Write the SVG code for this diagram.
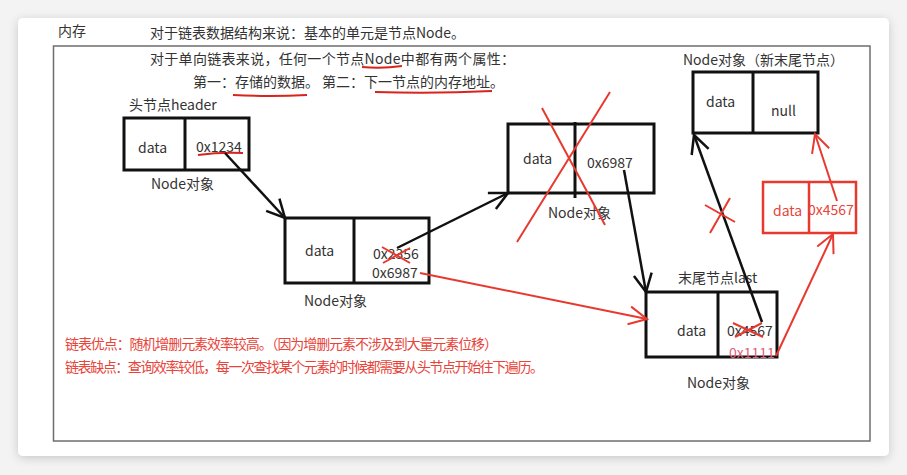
<svg xmlns="http://www.w3.org/2000/svg" width="907" height="475" viewBox="0 0 907 475">
<defs>
<filter id="sh" x="-10%" y="-10%" width="120%" height="120%">
<feDropShadow dx="0" dy="2" stdDeviation="5" flood-color="#000" flood-opacity="0.18"/>
</filter>
<marker id="ab" markerUnits="userSpaceOnUse" viewBox="-20 -12 22 24" refX="0" refY="0" markerWidth="22" markerHeight="24" orient="auto">
<path d="M-18,-9 L0,0 L-18,9" fill="none" stroke="#111" stroke-width="2.5"/>
</marker>
<marker id="ar" markerUnits="userSpaceOnUse" viewBox="-20 -12 22 24" refX="0" refY="0" markerWidth="22" markerHeight="24" orient="auto">
<path d="M-18,-9 L0,0 L-18,9" fill="none" stroke="#e8392f" stroke-width="2"/>
</marker>
</defs>
<style>
text{font-family:"Noto Sans CJK SC","Liberation Sans",sans-serif;fill:#333;font-size:14px}
.r{fill:#e8443a}
.box{fill:#fff;stroke:#111;stroke-width:3}
.div{stroke:#111;stroke-width:3}
.rbox{fill:#fff;stroke:#e8392f;stroke-width:2.5}
.rdiv{stroke:#e8392f;stroke-width:2.5}
.bl{fill:none;stroke:#111;stroke-width:2.5}
.rl{fill:none;stroke:#e8392f;stroke-width:2}
.ul{fill:none;stroke:#d9231d;stroke-width:2}
</style>
<rect x="0" y="0" width="907" height="475" fill="#f3f3f3"/>
<rect x="18" y="18" width="871" height="438" rx="5" fill="#fff" filter="url(#sh)"/>
<rect x="53.5" y="46" width="816.5" height="395" fill="none" stroke="#6e6e6e" stroke-width="1.5"/>
<text x="58" y="36" font-size="13.5">内存</text>
<g id="intro">
<text x="150" y="38" textLength="315" lengthAdjust="spacing">对于链表数据结构来说：基本的单元是节点Node。</text>
<text x="150" y="64" textLength="365" lengthAdjust="spacing">对于单向链表来说，任何一个节点Node中都有两个属性：</text>
<text x="193" y="87" textLength="311" lengthAdjust="spacing">第一：存储的数据。 第二：下一节点的内存地址。</text>
<path class="ul" d="M362,67 Q382,69 402,66"/>
<path class="ul" d="M233,95 Q270,97 307,95"/>
<path class="ul" d="M375,92 Q433,94 492,91"/>
</g>
<g id="header">
<text x="129" y="110">头节点header</text>
<rect class="box" x="124" y="118" width="125" height="52"/>
<line class="div" x1="185" y1="118" x2="185" y2="170"/>
<text x="138" y="153">data</text>
<text x="196" y="152">0x1234</text>
<path class="ul" d="M198,155 Q220,152 243,153"/>
<text x="151" y="189">Node对象</text>
</g>
<g id="node2">
<rect class="box" x="285" y="218" width="144" height="65"/>
<line class="div" x1="354" y1="218" x2="354" y2="283"/>
<text x="305" y="256">data</text>
<text x="373" y="259" font-size="13.5">0x2356</text>
<text x="372" y="277.5" font-size="13.5">0x6987</text>
<text x="304" y="306">Node对象</text>
<path class="rl" d="M382,247 L410,263 M383,263 L410,248" stroke-width="2.5"/>
</g>
<g id="node3">
<rect class="box" x="508" y="124" width="146" height="69"/>
<line class="div" x1="575" y1="122" x2="575" y2="198"/>
<text x="523" y="164">data</text>
<text x="587" y="168">0x6987</text>
<text x="548" y="218">Node对象</text>
<path class="rl" d="M542,108 L605,225 M610,92 L517,242" stroke-width="2.5"/>
</g>
<g id="last">
<text x="678" y="283">末尾节点last</text>
<rect class="box" x="646" y="292" width="131" height="65"/>
<line class="div" x1="718" y1="292" x2="718" y2="357"/>
<text x="677" y="336">data</text>
<text x="727" y="336">0x4567</text>
<text x="729" y="358" style="fill:#e2607a">0x1111</text>
<path class="rl" d="M733,323 L763,337 M735,337 L762,323" stroke-width="2.5"/>
<text x="687" y="388">Node对象</text>
</g>
<g id="newtail">
<text x="683" y="65">Node对象（新末尾节点）</text>
<rect class="box" x="693" y="72" width="125" height="61"/>
<line class="div" x1="753" y1="72" x2="753" y2="133"/>
<text x="706" y="107">data</text>
<text x="771" y="116">null</text>
</g>
<g id="newnode">
<rect class="rbox" x="763" y="182" width="93" height="51"/>
<line class="rdiv" x1="809" y1="182" x2="809" y2="233"/>
<text class="r" x="773" y="216">data</text>
<text class="r" x="808" y="215">0x4567</text>
</g>
<g id="connectors">
<path class="bl" d="M225,153 L285,218" marker-end="url(#ab)"/>
<path class="bl" d="M397,248 L508,193" marker-end="url(#ab)"/>
<path class="bl" d="M624,170 L646,292" marker-end="url(#ab)"/>
<path class="rl" d="M420,273 L647,319" marker-end="url(#ar)"/>
<path class="bl" d="M762,322 L694,135" marker-end="url(#ab)"/>
<path class="rl" d="M705,205 L735,222 M710,233 L730,198" stroke-width="2.5"/>
<path class="rl" d="M837,201 L815,134" marker-end="url(#ar)"/>
<path class="rl" d="M776,356 L833,234" marker-end="url(#ar)"/>
</g>
<g id="notes">
<text class="r" x="65" y="349" font-size="13" textLength="433" lengthAdjust="spacing">链表优点：随机增删元素效率较高。（因为增删元素不涉及到大量元素位移）</text>
<text class="r" x="65" y="372" font-size="13" textLength="479" lengthAdjust="spacing">链表缺点：查询效率较低，每一次查找某个元素的时候都需要从头节点开始往下遍历。</text>
</g>
</svg>
